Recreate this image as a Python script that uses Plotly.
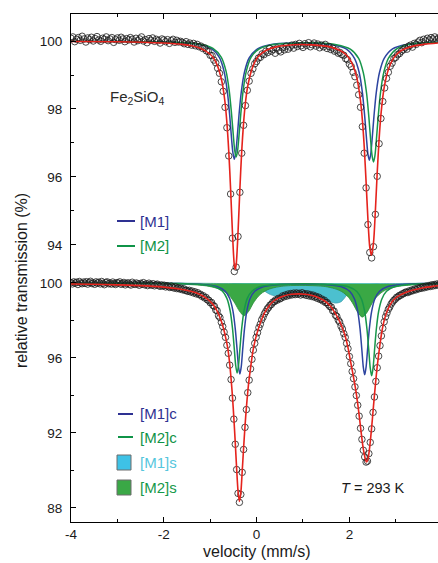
import numpy as np
import plotly.graph_objects as go

# ---------------- data: top panel (Fe2SiO4, measured points) ----------------
t_top = [
    100.08, 100.12, 99.98, 100.05, 100.10, 100.02, 100.14, 100.06, 99.97, 100.09,
    100.04, 100.11, 100.00, 100.07, 100.13, 100.03, 99.99, 100.08, 100.05, 100.12,
    100.01, 100.06, 100.10, 99.96, 100.04, 100.09, 100.02, 100.11, 100.06, 99.98,
    100.07, 100.03, 100.10, 100.05, 99.97, 100.08, 100.01, 100.06, 100.12, 100.00,
    100.04, 99.95, 100.07, 100.02, 100.09, 99.99, 100.05, 100.01, 99.94, 100.06,
    100.03, 99.98, 100.04, 99.93, 100.01, 100.05, 99.96, 100.02, 99.97, 99.99,
    99.96, 99.92, 99.98, 99.90, 99.94, 99.88, 99.93, 99.86, 99.90, 99.83,
    99.85, 99.78, 99.80, 99.71, 99.69,
    99.58, 99.57, 99.44, 99.36, 99.20, 99.05, 98.80, 98.52, 98.05, 97.45,
    96.62, 95.50, 94.20, 93.22, 93.35, 94.25, 95.55, 96.70, 97.52, 98.10,
    98.55, 98.82, 99.05, 99.18, 99.33, 99.40, 99.50, 99.52, 99.62, 99.60, 99.70,
    99.66, 99.78, 99.70, 99.75, 99.64, 99.79, 99.72, 99.68, 99.80, 99.74,
    99.85, 99.76, 99.82, 99.88, 99.79, 99.90, 99.84, 99.93, 99.86, 99.81,
    99.92, 99.87, 99.95, 99.83, 99.89, 99.94, 99.85, 99.91, 99.80, 99.88,
    99.83, 99.90, 99.78, 99.84, 99.75, 99.79, 99.70, 99.73, 99.64, 99.66,
    99.60, 99.58, 99.48, 99.45, 99.32, 99.25, 99.08, 98.95, 98.70, 98.42,
    98.05, 97.48, 96.70, 95.68, 94.60, 93.78, 93.62, 93.95, 94.90, 96.02,
    96.98, 97.72, 98.22, 98.62, 98.90, 99.08, 99.26, 99.35, 99.48, 99.52,
    99.60, 99.63, 99.70,
    99.74, 99.80, 99.76, 99.85, 99.88, 99.82, 99.93, 99.90, 99.97, 100.02,
    99.95, 100.05, 100.00, 100.08, 100.03, 100.10, 100.06, 100.12, 100.04, 100.09,
    100.07,
]
V_TOP_START, V_TOP_STEP = -4.0, 0.04
v_top = np.round(V_TOP_START + V_TOP_STEP * np.arange(len(t_top)), 3)

# fitted curves, top panel
red_top_v = [-4.0, -3.0, -2.0, -1.6, -1.4, -1.2, -1.0, -0.92, -0.84, -0.76, -0.72, -0.68, -0.64,
             -0.60, -0.56, -0.52, -0.48, -0.46, -0.44, -0.40, -0.36, -0.32, -0.28, -0.24, -0.20,
             -0.12, -0.04, 0.04, 0.20, 0.40, 0.80, 1.20, 1.60, 1.80, 1.92, 2.00, 2.08, 2.16, 2.20,
             2.24, 2.28, 2.32, 2.36, 2.40, 2.44, 2.475, 2.52, 2.56, 2.60, 2.64, 2.68, 2.72, 2.76,
             2.84, 2.92, 3.00, 3.12, 3.30, 3.60, 3.96]
red_top_t = [99.985, 99.98, 99.94, 99.90, 99.86, 99.78, 99.61, 99.48, 99.26, 98.89, 98.60, 98.19,
             97.60, 96.76, 95.64, 94.36, 93.41, 93.29, 93.42, 94.37, 95.65, 96.77, 97.60, 98.19,
             98.60, 99.09, 99.38, 99.55, 99.72, 99.82, 99.89, 99.885, 99.82, 99.72, 99.61, 99.48,
             99.27, 98.92, 98.63, 98.24, 97.68, 96.89, 95.86, 94.75, 93.93, 93.70, 94.07, 95.00,
             96.13, 97.10, 97.83, 98.35, 98.71, 99.16, 99.42, 99.58, 99.72, 99.82, 99.90, 99.945]
m1_top_v = [-4.0, -2.5, -1.78, -1.28, -0.98, -0.80, -0.70, -0.63, -0.58, -0.54, -0.51, -0.48, -0.45,
            -0.42, -0.38, -0.33, -0.26, -0.16, 0.02, 0.32, 0.82, 1.13, 1.63, 1.93, 2.11, 2.21, 2.28,
            2.33, 2.37, 2.40, 2.43, 2.46, 2.49, 2.53, 2.58, 2.65, 2.75, 2.93, 3.23, 3.73, 3.96]
m1_top_t = [99.99, 99.98, 99.96, 99.91, 99.78, 99.51, 99.10, 98.51, 97.82, 97.14, 96.71, 96.52, 96.70,
            97.13, 97.81, 98.50, 99.09, 99.50, 99.77, 99.90, 99.94, 99.94, 99.89, 99.77, 99.49, 99.08,
            98.49, 97.79, 97.11, 96.67, 96.49, 96.67, 97.11, 97.79, 98.49, 99.08, 99.49, 99.77, 99.90,
            99.96, 99.97]
m2_top_v = [-4.0, -2.5, -1.74, -1.24, -0.94, -0.76, -0.66, -0.59, -0.54, -0.50, -0.47, -0.44, -0.41,
            -0.38, -0.34, -0.29, -0.22, -0.12, 0.06, 0.36, 0.86, 1.22, 1.72, 2.02, 2.20, 2.30, 2.37,
            2.42, 2.46, 2.49, 2.52, 2.55, 2.58, 2.62, 2.67, 2.74, 2.84, 3.02, 3.32, 3.82, 3.96]
m2_top_t = [99.99, 99.98, 99.96, 99.91, 99.78, 99.52, 99.12, 98.54, 97.86, 97.20, 96.77, 96.59, 96.77,
            97.20, 97.86, 98.54, 99.12, 99.52, 99.77, 99.90, 99.94, 99.945, 99.89, 99.76, 99.49, 99.07,
            98.47, 97.76, 97.06, 96.62, 96.44, 96.62, 97.06, 97.76, 98.47, 99.07, 99.49, 99.77, 99.91,
            99.96, 99.97]

# ---------------- data: bottom panel (T = 293 K, measured points) ----------------
t_bot = [
    100.02, 99.95, 100.06, 99.99, 100.04, 99.92, 100.08, 100.00, 99.96, 100.05,
    99.98, 100.07, 99.94, 100.03, 100.09, 99.97, 100.01, 99.93, 100.06, 99.99,
    100.04, 99.95, 100.08, 99.98, 99.91, 100.03, 100.06, 99.96, 100.00, 99.94,
    100.05, 99.97, 99.92, 100.02, 99.99, 100.06, 99.93, 99.98, 100.03, 99.90,
    99.97, 100.01, 99.94, 99.89, 100.04, 99.96, 99.92, 100.00, 99.95, 99.88,
    99.98, 99.93, 100.02, 99.90, 99.95, 99.86, 99.99, 99.92, 99.88, 99.96,
    99.85, 99.91, 99.94, 99.87, 99.82, 99.90, 99.84, 99.88, 99.79, 99.86,
    99.81, 99.76, 99.84, 99.78, 99.73, 99.80, 99.70, 99.75, 99.68, 99.72,
    99.64, 99.69, 99.60, 99.62,
    99.55, 99.61, 99.52, 99.57, 99.47, 99.53, 99.42, 99.48, 99.38, 99.40,
    99.29, 99.32, 99.20, 99.23, 99.10, 99.08, 98.95, 98.96, 98.80, 98.76,
    98.56, 98.52, 98.25, 98.16, 97.90, 97.68, 97.38, 97.10, 96.68, 96.25,
    95.62, 94.85, 93.86, 92.74, 91.40, 90.05, 88.78, 88.30, 88.72, 89.90,
    91.12, 92.30, 93.25, 94.15, 94.82, 95.42, 95.93, 96.42, 96.78, 97.10,
    97.35, 97.62, 97.80, 98.04, 98.18, 98.36, 98.48, 98.62, 98.70, 98.82,
    98.86, 98.98, 99.00, 99.10, 99.08, 99.18, 99.15,
    99.20, 99.31, 99.26, 99.36, 99.30, 99.41, 99.34, 99.44, 99.37, 99.46,
    99.38, 99.47, 99.40, 99.45, 99.36, 99.48, 99.39, 99.43, 99.34, 99.42,
    99.31, 99.38, 99.28, 99.35, 99.24, 99.29, 99.18, 99.24, 99.12, 99.15,
    99.04, 99.08, 98.95, 98.96, 98.84,
    98.74, 98.72, 98.52, 98.50, 98.28, 98.22, 98.02, 97.92, 97.70, 97.55,
    97.30, 97.10, 96.78, 96.50, 96.08, 95.70, 95.28, 94.90, 94.46, 94.00,
    93.48, 92.90, 92.25, 91.66, 91.08, 90.72, 90.45, 90.50, 90.90, 91.50,
    92.22, 93.10, 93.92, 94.75, 95.48, 96.10, 96.66, 97.18, 97.58, 97.93,
    98.20, 98.40, 98.60, 98.72, 98.88, 98.98, 99.08, 99.14, 99.24, 99.26,
    99.34, 99.35, 99.42, 99.43, 99.50,
    99.52, 99.49, 99.58, 99.55, 99.63, 99.60, 99.68, 99.64, 99.72, 99.69,
    99.76, 99.72, 99.80, 99.75, 99.83, 99.79, 99.86, 99.81, 99.90, 99.84,
    99.92, 99.87, 99.95, 99.89, 99.96,
]
V_BOT_START, V_BOT_STEP = -4.0, 0.03
v_bot = np.round(V_BOT_START + V_BOT_STEP * np.arange(len(t_bot)), 3)

red_bot_v = [-4.0, -3.5, -3.0, -2.5, -2.0, -1.66, -1.4, -1.23, -1.08, -0.94, -0.85, -0.76, -0.70,
             -0.655, -0.62, -0.58, -0.55, -0.52, -0.49, -0.46, -0.43, -0.40, -0.37, -0.34, -0.31,
             -0.28, -0.25, -0.22, -0.19, -0.16, -0.12, -0.08, -0.03, 0.03, 0.10, 0.18, 0.26, 0.35,
             0.46, 0.60, 0.75, 0.90, 1.05, 1.20, 1.35, 1.47, 1.58, 1.68, 1.76, 1.83, 1.90, 1.97,
             2.03, 2.08, 2.13, 2.18, 2.22, 2.26, 2.30, 2.34, 2.37, 2.40, 2.44, 2.48, 2.52, 2.56,
             2.60, 2.65, 2.70, 2.76, 2.83, 2.92, 3.02, 3.20, 3.40, 3.60, 3.80, 3.95]
red_bot_t = [99.95, 99.93, 99.90, 99.86, 99.78, 99.68, 99.55, 99.40, 99.18, 98.86, 98.50, 97.96,
             97.45, 96.95, 96.50, 95.70, 94.90, 93.95, 92.80, 91.50, 90.10, 88.90, 88.35, 88.80,
             89.95, 91.20, 92.35, 93.35, 94.20, 94.90, 95.65, 96.35, 96.95, 97.50, 98.00, 98.45,
             98.75, 99.00, 99.18, 99.32, 99.40, 99.42, 99.40, 99.33, 99.20, 99.04, 98.80, 98.45,
             98.10, 97.72, 97.25, 96.55, 95.75, 95.10, 94.40, 93.55, 92.75, 91.90, 91.15, 90.65,
             90.45, 90.60, 91.30, 92.30, 93.45, 94.55, 95.55, 96.55, 97.40, 98.10, 98.60, 99.00,
             99.25, 99.48, 99.64, 99.75, 99.82, 99.86]
m1c_v = [-4.0, -2.36, -1.66, -1.16, -0.86, -0.68, -0.58, -0.51, -0.46, -0.42, -0.39, -0.36, -0.33,
         -0.30, -0.26, -0.21, -0.14, -0.04, 0.14, 0.44, 0.94, 1.03, 1.53, 1.83, 2.01, 2.11, 2.18,
         2.23, 2.27, 2.30, 2.33, 2.36, 2.39, 2.43, 2.48, 2.55, 2.65, 2.83, 3.13, 3.63, 3.95]
m1c_t = [99.99, 99.985, 99.97, 99.92, 99.81, 99.57, 99.17, 98.51, 97.57, 96.44, 95.55, 95.14, 95.55,
         96.44, 97.57, 98.51, 99.17, 99.56, 99.80, 99.91, 99.95, 99.95, 99.91, 99.80, 99.55, 99.15,
         98.49, 97.55, 96.40, 95.51, 95.10, 95.51, 96.40, 97.55, 98.49, 99.16, 99.56, 99.81, 99.92,
         99.97, 99.98]
m2c_v = [-4.0, -2.42, -1.72, -1.22, -0.92, -0.74, -0.64, -0.57, -0.52, -0.48, -0.45, -0.42, -0.39,
         -0.36, -0.32, -0.27, -0.20, -0.10, 0.08, 0.38, 0.88, 1.18, 1.68, 1.98, 2.16, 2.26, 2.33,
         2.38, 2.42, 2.45, 2.48, 2.51, 2.54, 2.58, 2.63, 2.70, 2.80, 2.98, 3.28, 3.78, 3.95]
m2c_t = [99.99, 99.985, 99.97, 99.92, 99.81, 99.57, 99.18, 98.52, 97.60, 96.47, 95.60, 95.20, 95.60,
         96.47, 97.60, 98.52, 99.18, 99.56, 99.81, 99.91, 99.95, 99.95, 99.91, 99.80, 99.55, 99.15,
         98.48, 97.52, 96.36, 95.46, 95.05, 95.46, 96.36, 97.52, 98.48, 99.15, 99.56, 99.81, 99.92,
         99.97, 99.975]
m2s_v = [-4.0, -3.0, -2.27, -1.87, -1.57, -1.27, -1.07, -0.87, -0.77, -0.67, -0.57, -0.47, -0.37,
         -0.27, -0.17, -0.07, 0.03, 0.13, 0.23, 0.33, 0.53, 0.73, 0.98, 1.28, 1.48, 1.68, 1.78,
         1.88, 1.98, 2.08, 2.18, 2.28, 2.38, 2.48, 2.58, 2.68, 2.78, 2.88, 3.08, 3.28, 3.58, 3.95]
m2s_t = [99.99, 99.98, 99.97, 99.95, 99.93, 99.89, 99.84, 99.73, 99.64, 99.50, 99.28, 98.93, 98.50,
         98.25, 98.49, 98.93, 99.27, 99.49, 99.63, 99.72, 99.82, 99.86, 99.87, 99.85, 99.81, 99.70,
         99.61, 99.47, 99.24, 98.88, 98.43, 98.18, 98.43, 98.88, 99.24, 99.47, 99.62, 99.72, 99.83,
         99.88, 99.92, 99.95]
m1s_v = [-4.0, -1.0, -0.5, -0.2, 0.0, 0.15, 0.3, 0.45, 0.6, 0.8, 1.0, 1.2, 1.4, 1.55, 1.7, 1.82,
         1.92, 2.02, 2.2, 2.5, 3.0, 3.95]
m1s_t = [100.0, 99.98, 99.95, 99.90, 99.80, 99.60, 99.38, 99.30, 99.30, 99.34, 99.35, 99.30, 99.18,
         99.04, 98.93, 99.00, 99.28, 99.62, 99.84, 99.93, 99.97, 99.99]

x_tickvals = [-4, -2, 0, 2]
x_ticktext = ['-4', '-2', '0', '2']
y_top_ticks = [94, 96, 98, 100]
y_bot_ticks = [88, 92, 96, 100]

# ---------------- styles ----------------
RED = '#e5231d'
BLUE = '#2d44a0'
GREEN = '#17964a'
CYAN_FILL = '#4cc0cf'
GREEN_FILL = '#3aa845'
FONT = 'Liberation Sans, Arial, Helvetica, sans-serif'

W, H = 438, 563
L, R, T, B = 71, 0, 14, 41
SPLIT_PX = 276


def px(x):
    return (x - L) / (W - L - R)


def py(y):
    return (H - B - y) / (H - T - B)


split = py(SPLIT_PX)

fig = go.Figure()
spl = dict(shape='spline', smoothing=0.8)

# top panel
fig.add_trace(go.Scatter(x=m1_top_v, y=m1_top_t, mode='lines', xaxis='x2', yaxis='y2',
                         line=dict(color=BLUE, width=1.5, **spl)))
fig.add_trace(go.Scatter(x=m2_top_v, y=m2_top_t, mode='lines', xaxis='x2', yaxis='y2',
                         line=dict(color=GREEN, width=1.5, **spl)))
fig.add_trace(go.Scatter(x=v_top, y=t_top, mode='markers', xaxis='x2', yaxis='y2',
                         marker=dict(symbol='circle-open', size=6.5, color='#1a1a1a',
                                     line=dict(width=0.8))))
fig.add_trace(go.Scatter(x=red_top_v, y=red_top_t, mode='lines', xaxis='x2', yaxis='y2',
                         line=dict(color=RED, width=1.6, **spl)))

# bottom panel
fig.add_trace(go.Scatter(x=m1s_v, y=m1s_t, mode='lines', fill='toself', fillcolor=CYAN_FILL,
                         line=dict(color='#3a9fae', width=0.8, **spl)))
fig.add_trace(go.Scatter(x=m2s_v, y=m2s_t, mode='lines', fill='toself', fillcolor=GREEN_FILL,
                         line=dict(color='#2b8a3a', width=0.8, **spl)))
fig.add_trace(go.Scatter(x=m1c_v, y=m1c_t, mode='lines',
                         line=dict(color=BLUE, width=1.5, **spl)))
fig.add_trace(go.Scatter(x=m2c_v, y=m2c_t, mode='lines',
                         line=dict(color=GREEN, width=1.5, **spl)))
fig.add_trace(go.Scatter(x=v_bot, y=t_bot, mode='markers',
                         marker=dict(symbol='circle-open', size=6.5, color='#1a1a1a',
                                     line=dict(width=0.8))))
fig.add_trace(go.Scatter(x=red_bot_v, y=red_bot_t, mode='lines',
                         line=dict(color=RED, width=1.6, **spl)))

axis_common = dict(showline=True, linecolor='black', linewidth=1, ticks='inside', ticklen=5,
                   tickwidth=1, tickcolor='black', showgrid=False, zeroline=False,
                   tickfont=dict(family=FONT, size=13.5, color='#1a1a1a'))

fig.update_layout(
    width=W, height=H, margin=dict(l=L, r=R, t=T, b=B, pad=0),
    paper_bgcolor='white', plot_bgcolor='white', showlegend=False,
    font=dict(family=FONT, size=13.5, color='#1a1a1a'),
    xaxis=dict(domain=[0, 1], range=[-4, 3.91], anchor='y', tickmode='array',
               tickvals=x_tickvals, ticktext=x_ticktext, ticklabelstandoff=0,
               minor=dict(ticks='inside', ticklen=3, tick0=-4, dtick=1, tickcolor='black'),
               **axis_common),
    xaxis2=dict(domain=[0, 1], range=[-4, 3.91], anchor='y2', side='top', matches='x',
                tickmode='array', tickvals=x_tickvals, showticklabels=False,
                minor=dict(ticks='inside', ticklen=3, tick0=-4, dtick=1, tickcolor='black'),
                **axis_common),
    yaxis=dict(domain=[0, split], range=[87.253, 100.373], anchor='x', tickmode='array',
               tickvals=y_bot_ticks, ticklabelstandoff=5,
               minor=dict(ticks='inside', ticklen=3, tick0=88, dtick=2, tickcolor='black'),
               **axis_common),
    yaxis2=dict(domain=[split, 1], range=[93.088, 100.794], anchor='x2', tickmode='array',
                tickvals=y_top_ticks, ticklabelstandoff=5,
                minor=dict(ticks='inside', ticklen=3, tick0=94, dtick=1, tickcolor='black'),
                **axis_common),
)

shapes = []
ann = []


def legend_line(x0, x1, y, color):
    shapes.append(dict(type='line', xref='paper', yref='paper', x0=px(x0), x1=px(x1),
                       y0=py(y), y1=py(y), line=dict(color=color, width=2)))


def legend_box(x0, x1, y0, y1, color):
    shapes.append(dict(type='rect', xref='paper', yref='paper', x0=px(x0), x1=px(x1),
                       y0=py(y1), y1=py(y0), fillcolor=color, line=dict(color='#6d6d6d', width=1)))


def label(x, y, text, color, size=15, anchor='left'):
    ann.append(dict(xref='paper', yref='paper', x=px(x), y=py(y), text=text, showarrow=False,
                    xanchor=anchor, yanchor='middle', borderpad=0,
                    font=dict(family=FONT, size=size, color=color)))


legend_line(117, 135, 221, '#2e3192')
label(139, 221, '[M1]', '#2e3192')
legend_line(117, 135, 246, '#0f9347')
label(139, 246, '[M2]', '#0f9347')

legend_line(118, 133, 414, '#2e3192')
label(139, 414, '[M1]c', '#2e3192')
legend_line(118, 133, 437, '#0f9347')
label(139, 437, '[M2]c', '#0f9347')
legend_box(117, 131, 455, 470, '#3ec2e6')
label(139, 462, '[M1]s', '#55c6dd')
legend_box(117, 131, 480, 495, '#3aa846')
label(139, 487, '[M2]s', '#16994a')

label(109, 97, 'Fe<sub>2</sub>SiO<sub>4</sub>', '#2a2a2a', size=15)
label(340, 488, '<i>T</i> = 293 K', '#1a1a1a', size=14.5)

# axis titles
label(257, 551, 'velocity (mm/s)', '#1a1a1a', size=16, anchor='center')
ann.append(dict(xref='paper', yref='paper', x=px(21), y=py(281), text='relative transmission (%)',
                showarrow=False, textangle=-90, xanchor='center', yanchor='middle',
                font=dict(family=FONT, size=16, color='#1a1a1a')))

fig.update_layout(shapes=shapes, annotations=ann)
fig.write_html('out.html', config={'displayModeBar': False},
               post_script="document.body.style.margin='0px';document.body.style.padding='0px';"
                           "document.body.style.overflow='hidden';")
